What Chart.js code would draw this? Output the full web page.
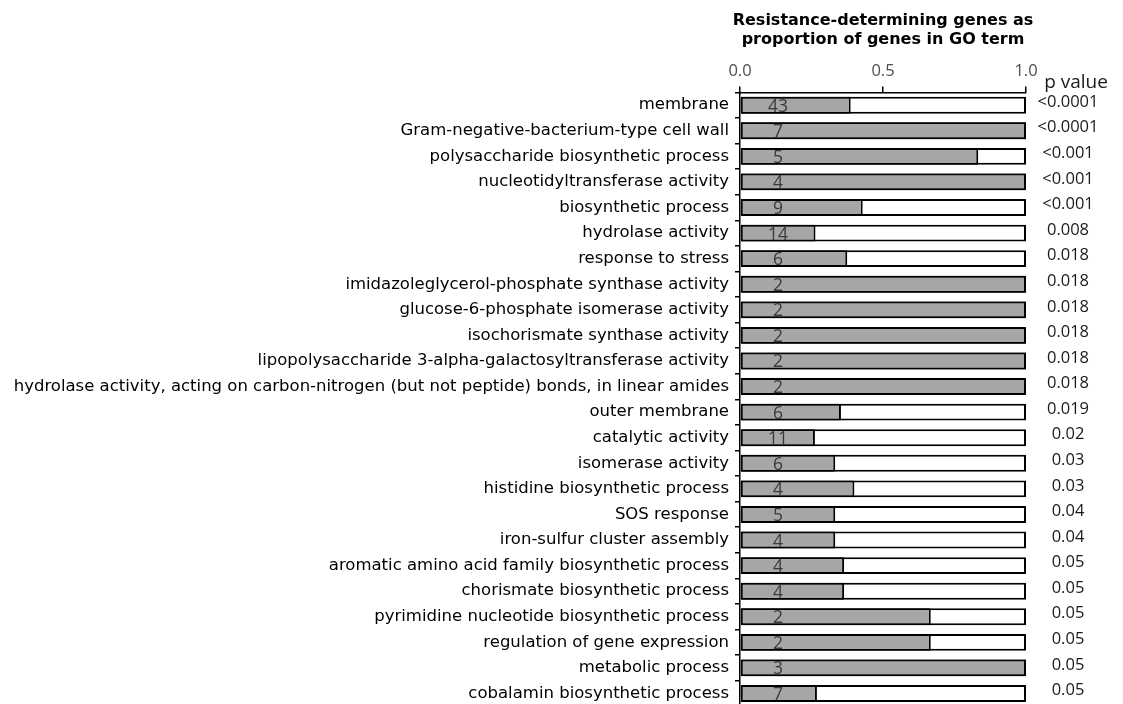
<!DOCTYPE html>
<html>
<head>
<meta charset="utf-8">
<title>Resistance-determining genes per GO term</title>
<script src="https://cdn.jsdelivr.net/npm/chart.js@4.4.1/dist/chart.umd.min.js"></script>
<style>
  html, body { margin: 0; padding: 0; background: #fff; overflow: hidden; }
  #wrap { width: 1123px; height: 712px; }
</style>
</head>
<body>
<div id="wrap"><canvas id="goChart" width="1123" height="712"></canvas></div>
<script>
// GO terms, top to bottom
const categories = [
    'membrane',
    'Gram-negative-bacterium-type cell wall',
    'polysaccharide biosynthetic process',
    'nucleotidyltransferase activity',
    'biosynthetic process',
    'hydrolase activity',
    'response to stress',
    'imidazoleglycerol-phosphate synthase activity',
    'glucose-6-phosphate isomerase activity',
    'isochorismate synthase activity',
    'lipopolysaccharide 3-alpha-galactosyltransferase activity',
    'hydrolase activity, acting on carbon-nitrogen (but not peptide) bonds, in linear amides',
    'outer membrane',
    'catalytic activity',
    'isomerase activity',
    'histidine biosynthetic process',
    'SOS response',
    'iron-sulfur cluster assembly',
    'aromatic amino acid family biosynthetic process',
    'chorismate biosynthetic process',
    'pyrimidine nucleotide biosynthetic process',
    'regulation of gene expression',
    'metabolic process',
    'cobalamin biosynthetic process'
];

// number of resistance-determining genes in each term (label inside the grey bar)
const geneCounts = [43, 7, 5, 4, 9, 14, 6, 2, 2, 2, 2, 2, 6, 11, 6, 4, 5, 4, 4, 4, 2, 2, 3, 7];

// proportion of the term's genes that are resistance-determining
const proportions = [0.387, 1, 0.833, 1, 0.429, 0.264, 0.375, 1, 1, 1, 1, 1,
                     0.353, 0.262, 0.333, 0.4, 0.333, 0.333, 0.364, 0.364, 0.667, 0.667, 1, 0.269];

// whole GO term (white outline bar behind)
const wholeTerm = [1, 1, 1, 1, 1, 1, 1, 1, 1, 1, 1, 1, 1, 1, 1, 1, 1, 1, 1, 1, 1, 1, 1, 1];

const pValues = ['<0.0001', '<0.0001', '<0.001', '<0.001', '<0.001', '0.008', '0.018', '0.018',
                 '0.018', '0.018', '0.018', '0.018', '0.019', '0.02', '0.03', '0.03', '0.04', '0.04',
                 '0.05', '0.05', '0.05', '0.05', '0.05', '0.05'];

const xTickValues = [0, 0.5, 1];
const titleLines = ['Resistance-determining genes as', 'proportion of genes in GO term'];

// titles, p values and counts drawn next to the bars
const annotations = {
    id: 'annotations',
    afterDraw(chart) {
        const ctx = chart.ctx;
        const x = chart.scales.x;
        const y = chart.scales.y;
        const area = chart.chartArea;
        ctx.save();

        // title above the axis
        ctx.fillStyle = '#000';
        ctx.textAlign = 'center';
        ctx.textBaseline = 'alphabetic';
        ctx.font = 'bold 16px "DejaVu Sans"';
        const mid = (area.left + area.right) / 2;
        ctx.fillText(titleLines[0], mid, 25);
        ctx.fillText(titleLines[1], mid, 43.5);

        // p value column
        ctx.font = '19px "Open Sans"';
        ctx.fillStyle = '#1a1a1a';
        ctx.fillText('p value', area.right + 50, 88);
        ctx.font = '16.5px "Open Sans"';
        ctx.textBaseline = 'middle';
        pValues.forEach((p, i) => {
            ctx.fillText(p, area.right + 42, y.getPixelForValue(i) - 3);
        });

        // gene counts inside the bars
        ctx.font = '17.5px "Open Sans"';
        ctx.fillStyle = '#3a3a3a';
        geneCounts.forEach((n, i) => {
            ctx.fillText(String(n), x.getPixelForValue(0.133), y.getPixelForValue(i) + 1.5);
        });
        ctx.restore();
    }
};

const ctx = document.getElementById('goChart').getContext('2d');
const goChart = new Chart(ctx, {
    type: 'bar',
    data: {
        labels: categories,
        datasets: [{
            label: 'resistance-determining',
            data: proportions,
            backgroundColor: '#a6a6a6',
            borderColor: '#000',
            borderWidth: 2,
            borderSkipped: false,
            barPercentage: 0.66,
            categoryPercentage: 1
        }, {
            label: 'GO term',
            data: wholeTerm,
            backgroundColor: '#fff',
            borderColor: '#000',
            borderWidth: 2,
            borderSkipped: false,
            barPercentage: 0.66,
            categoryPercentage: 1
        }]
    },
    options: {
        indexAxis: 'y',
        responsive: false,
        animation: false,
        layout: { padding: { left: 0, right: 97, top: 0, bottom: 5.7 } },
        plugins: {
            legend: { display: false },
            tooltip: { enabled: false }
        },
        scales: {
            x: {
                position: 'top',
                min: 0,
                max: 1,
                afterFit(scale) { scale.height = 92.4; },
                afterBuildTicks(scale) { scale.ticks = xTickValues.map(v => ({ value: v })); },
                ticks: {
                    callback: v => Number(v).toFixed(1),
                    color: '#4d4d4d',
                    font: { family: 'Open Sans', size: 16.5 },
                    padding: 5,
                    maxRotation: 0
                },
                grid: { drawOnChartArea: false, tickLength: 6, color: '#000', lineWidth: 1.5 },
                border: { color: '#000', width: 1.5 }
            },
            y: {
                stacked: true,
                afterFit(scale) {
                    scale.width = 740;
                    scale.paddingTop = 0;
                    scale.paddingBottom = 0;
                },
                ticks: {
                    color: '#000',
                    font: { family: 'DejaVu Sans', size: 16.5 },
                    padding: 6,
                    autoSkip: false
                },
                grid: { drawOnChartArea: false, tickLength: 5, color: '#000', lineWidth: 1.5, offset: true },
                border: { color: '#000', width: 1.5 }
            }
        }
    },
    plugins: [annotations]
});
</script>
</body>
</html>
